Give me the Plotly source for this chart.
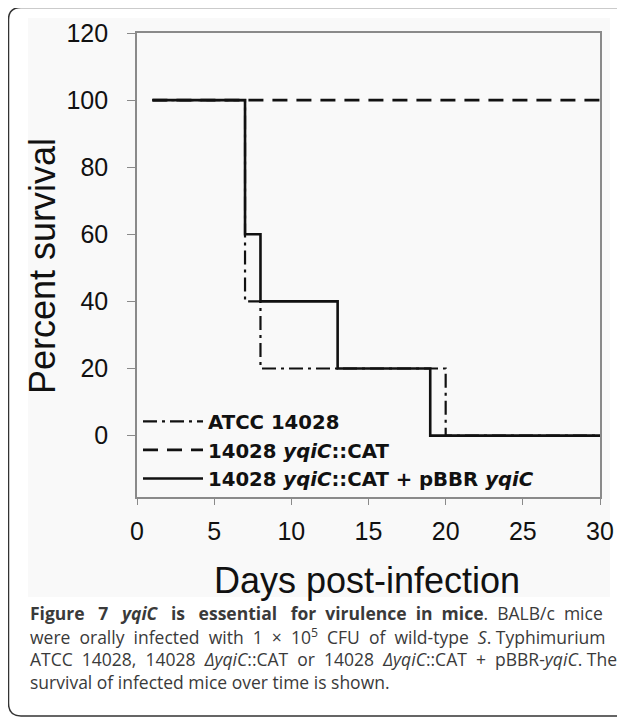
import plotly.graph_objects as go

# ---- data ----
days_atcc = [1, 7, 8, 20, 30]
surv_atcc = [100, 40, 20, 0, 0]
days_mut = [1, 30]
surv_mut = [100, 100]
days_comp = [1, 7, 8, 13, 19, 30]
surv_comp = [100, 60, 40, 20, 0, 0]

name_atcc = "<b>ATCC 14028</b>"
name_mut = "<b>14028 <i>yqiC</i>::CAT</b>"
name_comp = "<b>14028 <i>yqiC</i>::CAT + pBBR <i>yqiC</i></b>"

x_ticks = [0, 5, 10, 15, 20, 25, 30]
y_ticks = [0, 20, 40, 60, 80, 100, 120]

caption_lines = [
    "<b>Figure 7 <i>yqiC</i> is essential for virulence in mice</b>. BALB/c mice",
    "were orally infected with 1 × 10<sup>5</sup> CFU of wild-type <i>S</i>. Typhimurium",
    "ATCC 14028, 14028 <i>ΔyqiC</i>::CAT or 14028 <i>ΔyqiC</i>::CAT + pBBR-<i>yqiC</i>. The",
    "survival of infected mice over time is shown.",
]
# extra word spaces to imitate the justified caption lines
caption_extra_spaces = [15, 10, 8, 0]

# ---- layout geometry (pixels of the 625x721 window; page body has an 8px margin) ----
OFF = 8
W, H = 625 - OFF, 721 - OFF
PL, PR, PT, PB = 137, 600, 33, 497


def X(px):
    return (px - PL) / (PR - PL)


def Y(py):
    return (PB - py) / (PB - PT)


def justify(line, extra):
    words = line.split(" ")
    gaps = len(words) - 1
    if extra <= 0 or gaps <= 0:
        return line
    out = words[0]
    for i, w in enumerate(words[1:]):
        k = extra // gaps + (1 if i < extra % gaps else 0)
        out += " " + "&nbsp;" * k + w
    return out


ARIAL = "Liberation Sans, Arial, sans-serif"
LEG_FONT = "DejaVu Sans, Liberation Sans, Arial, sans-serif"
CAP_FONT = "Open Sans, Noto Sans, sans-serif"

fig = go.Figure()
fig.add_trace(go.Scatter(x=days_mut, y=surv_mut, mode="lines", line_shape="hv",
                         name=name_mut, legendrank=2,
                         line=dict(color="#111111", width=2.6, dash="15px,9px")))
fig.add_trace(go.Scatter(x=days_atcc, y=surv_atcc, mode="lines", line_shape="hv",
                         name=name_atcc, legendrank=1,
                         line=dict(color="#111111", width=2.2, dash="14px,5px,3px,5px")))
fig.add_trace(go.Scatter(x=days_comp, y=surv_comp, mode="lines", line_shape="hv",
                         name=name_comp, legendrank=3,
                         line=dict(color="#111111", width=2.6)))

axis_common = dict(showgrid=False, zeroline=False, showline=True, linecolor="#8a8a8a",
                   linewidth=1.6, mirror=True, ticks="outside", tickcolor="#8a8a8a",
                   tickwidth=1.4, tickfont=dict(family=ARIAL, size=25, color="#111111"))

fig.update_xaxes(range=[0, 30], tickvals=x_ticks, ticklen=6, ticklabelstandoff=5, **axis_common)
fig.update_yaxes(range=[-18.3, 120], tickvals=y_ticks, ticklen=8, ticklabelstandoff=14, **axis_common)

shapes = [
    # light panel of the chart image
    dict(type="rect", xref="paper", yref="paper", x0=X(28), x1=X(610), y0=Y(597), y1=Y(18),
         fillcolor="#f9f9f9", line=dict(width=0), layer="below"),
    # rounded outer frame (open on the right)
    dict(type="path", xref="paper", yref="paper", layer="below",
         path=(f"M {X(660)},{Y(7.5)} L {X(21)},{Y(7.5)} Q {X(8.5)},{Y(7.5)} {X(8.5)},{Y(20)} "
               f"L {X(8.5)},{Y(703)} Q {X(8.5)},{Y(716)} {X(21)},{Y(716)} L {X(660)},{Y(716)}"),
         line=dict(color="#333333", width=1.5)),
]

annotations = [
    dict(text="Days post-infection", xref="paper", yref="paper", x=X(367), y=Y(580),
         xanchor="center", yanchor="middle", showarrow=False,
         font=dict(family=ARIAL, size=36, color="#111111")),
    dict(text="Percent survival", xref="paper", yref="paper", x=X(42), y=Y(266),
         xanchor="center", yanchor="middle", showarrow=False, textangle=-90,
         font=dict(family=ARIAL, size=36, color="#111111")),
]
baselines = [619, 642, 665, 688]
for line, extra, b in zip(caption_lines, caption_extra_spaces, baselines):
    annotations.append(dict(text=justify(line, extra), xref="paper", yref="paper",
                            x=X(28), y=Y(b - 6),
                            xanchor="left", yanchor="middle", showarrow=False, align="left",
                            font=dict(family=CAP_FONT, size=17.5, color="#3a3a3a")))

fig.update_layout(
    width=W, height=H,
    margin=dict(l=PL - OFF, r=(W + OFF) - PR, t=PT - OFF, b=(H + OFF) - PB, pad=0),
    paper_bgcolor="white", plot_bgcolor="rgba(0,0,0,0)",
    shapes=shapes, annotations=annotations,
    showlegend=True,
    legend=dict(x=X(138), y=Y(402), xanchor="left", yanchor="top",
                bgcolor="rgba(0,0,0,0)", borderwidth=0, itemwidth=60,
                font=dict(family=LEG_FONT, size=19.7, color="#111111"),
                tracegroupgap=0),
)

fig.write_html("out.html")
